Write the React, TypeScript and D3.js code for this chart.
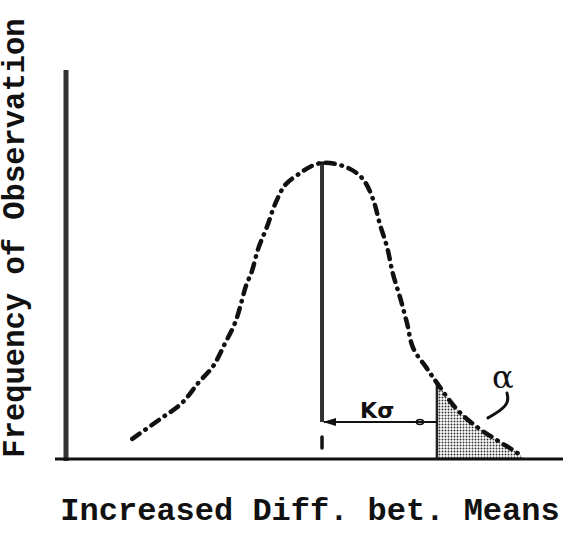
import React from "react";
import * as d3 from "d3";

// Curve: x in sigma units from the mean, y relative to the peak height
const curveX = [-2.79, -2.38, -2.06, -1.82, -1.6, -1.43, -1.28, -1.18, -1.12, -1.03, -0.94, -0.81, -0.69, -0.54, -0.32, -0.15, 0, 0.19, 0.41, 0.6, 0.75, 0.85, 0.96, 1.04, 1.15, 1.25, 1.34, 1.54, 1.69, 1.99, 2.28, 2.57, 2.81, 2.96];
const curveY = [0.068, 0.135, 0.189, 0.257, 0.314, 0.389, 0.459, 0.534, 0.584, 0.635, 0.709, 0.784, 0.861, 0.926, 0.966, 0.99, 1.0, 0.997, 0.98, 0.946, 0.878, 0.794, 0.713, 0.628, 0.544, 0.459, 0.375, 0.307, 0.257, 0.166, 0.108, 0.064, 0.03, 0.007];

const criticalX = [1.69]; // K sigma
const arrowY = [0.125];
const kLabelPos = [0.56, 0.139];
const alphaPos = [2.5, 0.24];
const squiggleX = [2.72, 2.75, 2.62, 2.44];
const squiggleY = [0.223, 0.193, 0.162, 0.139];
const zeroMarkY = [0.074, 0.037];
const peakBarX = [-0.06, 0.16];

const xDomain = [-3.765, 3.544];
const yDomain = [0, 1.314];

const xTitle = "Increased Diff. bet. Means";
const yTitle = "Frequency of Observation";
const kLabel = "Kσ";
const alphaLabel = "α";

const W = 577;
const H = 541;

export default function App() {
  const x = d3.scaleLinear().domain(xDomain).range([66, 563]);
  const y = d3.scaleLinear().domain(yDomain).range([459, 70]);

  const pts: [number, number][] = curveX.map((v, i) => [v, curveY[i]]);
  const line = d3
    .line<[number, number]>()
    .x((d) => x(d[0]))
    .y((d) => y(d[1]))
    .curve(d3.curveCatmullRom.alpha(0.5));

  const kx = criticalX[0];
  const tail = pts.filter((p) => p[0] >= kx);
  const area = d3
    .area<[number, number]>()
    .x((d) => x(d[0]))
    .y0(y(0))
    .y1((d) => y(d[1]))
    .curve(d3.curveLinear);

  const squig = d3
    .line<[number, number]>()
    .x((d) => x(d[0]))
    .y((d) => y(d[1]))
    .curve(d3.curveBasis)(squiggleX.map((v, i) => [v, squiggleY[i]]));

  const ay = y(arrowY[0]);
  const mono = "'Liberation Mono', 'DejaVu Sans Mono', monospace";

  return (
    <svg width={W} height={H} style={{ position: "absolute", left: 0, top: 0, background: "#fff" }}>
      <defs>
        <pattern id="dots" width="3" height="3" patternUnits="userSpaceOnUse">
          <rect width="3" height="3" fill="#fff" />
          <circle cx="1.5" cy="1.5" r="0.95" fill="#333" />
        </pattern>
      </defs>

      {/* shaded tail */}
      <path d={area(tail) || ""} fill="url(#dots)" />
      <line x1={x(kx)} x2={x(kx)} y1={y(0)} y2={y(tail[0][1])} stroke="#222" strokeWidth={2.5} />

      {/* axes */}
      <line x1={x(xDomain[0])} x2={x(xDomain[0])} y1={y(yDomain[1])} y2={y(0) + 2} stroke="#333" strokeWidth={5} />
      <line x1={x(xDomain[0]) - 11} x2={x(xDomain[1])} y1={y(0)} y2={y(0)} stroke="#111" strokeWidth={3} />

      {/* curve */}
      <path
        d={line(pts) || ""}
        fill="none"
        stroke="#111"
        strokeWidth={4.5}
        strokeLinecap="round"
        strokeDasharray="9 7 0.5 7"
      />

      {/* mean line */}
      <line x1={x(0)} x2={x(0)} y1={y(1)} y2={ay} stroke="#333" strokeWidth={4} />
      <line x1={x(peakBarX[0])} x2={x(peakBarX[1])} y1={y(1)} y2={y(1)} stroke="#111" strokeWidth={3} />
      <line x1={x(0)} x2={x(0)} y1={y(zeroMarkY[0])} y2={y(zeroMarkY[1])} stroke="#111" strokeWidth={3.5} strokeLinecap="round" />

      {/* K sigma arrow */}
      <line x1={x(0) + 2} x2={x(kx)} y1={ay} y2={ay} stroke="#111" strokeWidth={2} />
      <path d={`M${x(0) + 1},${ay} L${x(0) + 14},${ay - 4} L${x(0) + 14},${ay + 4} Z`} fill="#111" />
      <ellipse cx={x(1.44)} cy={ay} rx={3.5} ry={2.5} fill="none" stroke="#111" strokeWidth={1.5} />
      <text x={x(kLabelPos[0])} y={y(kLabelPos[1])} fontFamily="'DejaVu Sans', sans-serif" fontWeight="bold" fontSize={22} fill="#111">
        {kLabel}
      </text>

      {/* alpha */}
      <text x={x(alphaPos[0])} y={y(alphaPos[1])} fontFamily="'DejaVu Serif', serif" fontSize={32} fill="#111">
        {alphaLabel}
      </text>
      <path d={squig || ""} fill="none" stroke="#111" strokeWidth={3} strokeLinecap="round" />

      {/* titles */}
      <text
        transform={`translate(24,238) rotate(-90)`}
        textAnchor="middle"
        fontFamily={mono}
        fontWeight="bold"
        fontSize={30.5}
        fill="#111"
      >
        {yTitle}
      </text>
      <text
        transform={`translate(310,520)`}
        textAnchor="middle"
        fontFamily={mono}
        fontWeight="bold"
        fontSize={32}
        fill="#111"
      >
        {xTitle}
      </text>
    </svg>
  );
}
